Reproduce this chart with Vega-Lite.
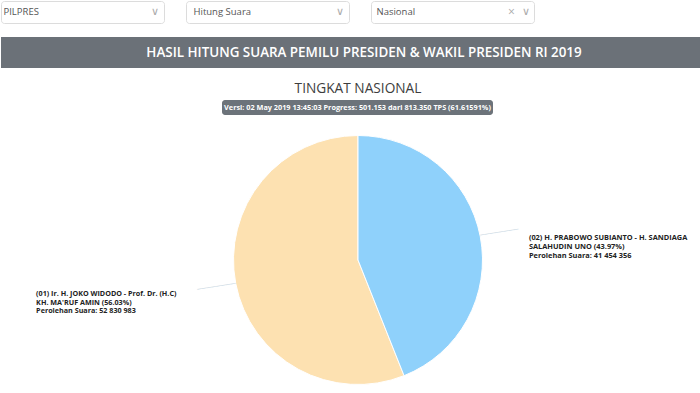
{
  "$schema": "https://vega.github.io/schema/vega-lite/v6.json",
  "padding": 0,
  "background": "white",
  "spacing": 13,
  "config": {"view": {"stroke": null}, "text": {"font": "Open Sans"}},
  "datasets": {
    "kandidat": [
      {"nomor": 1, "kandidat": "Ir. H. JOKO WIDODO - Prof. Dr. (H.C) KH. MA'RUF AMIN", "persen": 56.03, "suara": 52830983, "label": ["(01) Ir. H. JOKO WIDODO - Prof. Dr. (H.C)", "KH. MA'RUF AMIN (56.03%)", "Perolehan Suara: 52 830 983"]},
      {"nomor": 2, "kandidat": "H. PRABOWO SUBIANTO - H. SANDIAGA SALAHUDIN UNO", "persen": 43.97, "suara": 41454356, "label": ["(02) H. PRABOWO SUBIANTO - H. SANDIAGA", "SALAHUDIN UNO (43.97%)", "Perolehan Suara: 41 454 356"]}
    ]
  },
  "vconcat": [
    {
      "spacing": 20,
      "hconcat": [
        {
          "width": 163, "height": 22,
          "view": {"fill": "white", "stroke": "#dcdcdc", "cornerRadius": 3},
          "data": {"values": [{"pilihan": "PILPRES"}]},
          "layer": [
            {"mark": {"type": "text", "align": "left", "dx": -79, "fontSize": 9.5, "color": "#555555"}, "encoding": {"text": {"field": "pilihan"}}},
            {"mark": {"type": "text", "text": "∨", "dx": 72, "fontSize": 11, "color": "#aaaaaa"}, "encoding": {}}
          ]
        },
        {
          "width": 163, "height": 22,
          "view": {"fill": "white", "stroke": "#dcdcdc", "cornerRadius": 3},
          "data": {"values": [{"pilihan": "Hitung Suara"}]},
          "layer": [
            {"mark": {"type": "text", "align": "left", "dx": -74, "fontSize": 9.5, "color": "#555555"}, "encoding": {"text": {"field": "pilihan"}}},
            {"mark": {"type": "text", "text": "∨", "dx": 72, "fontSize": 11, "color": "#aaaaaa"}, "encoding": {}}
          ]
        },
        {
          "width": 163, "height": 22,
          "view": {"fill": "white", "stroke": "#dcdcdc", "cornerRadius": 3},
          "data": {"values": [{"pilihan": "Nasional"}]},
          "layer": [
            {"mark": {"type": "text", "align": "left", "dx": -76, "fontSize": 9.5, "color": "#555555"}, "encoding": {"text": {"field": "pilihan"}}},
            {"mark": {"type": "text", "text": "×", "dx": 59, "fontSize": 12, "color": "#aaaaaa"}, "encoding": {}},
            {"mark": {"type": "text", "text": "∨", "dx": 73, "fontSize": 11, "color": "#aaaaaa"}, "encoding": {}}
          ]
        }
      ]
    },
    {
      "spacing": 0,
      "vconcat": [
        {
          "width": 700, "height": 31,
          "view": {"fill": "#6b7178"},
          "data": {"values": [{"judul": "HASIL HITUNG SUARA PEMILU PRESIDEN & WAKIL PRESIDEN RI 2019"}]},
          "mark": {"type": "text", "color": "white", "fontSize": 13.4, "fontWeight": 600, "dx": 13},
          "encoding": {"text": {"field": "judul"}}
        },
        {
          "width": 700, "height": 32,
          "data": {"values": [{"judul": "TINGKAT NASIONAL"}]},
          "mark": {"type": "text", "color": "#3d3d3d", "fontSize": 13.7, "dx": 7, "dy": 5},
          "encoding": {"text": {"field": "judul"}}
        },
        {
          "spacing": 10,
          "vconcat": [
            {
              "spacing": 0,
              "hconcat": [
                {"width": 221, "height": 15, "data": {"values": [{}]}, "mark": {"type": "text", "text": ""}, "encoding": {}},
                {
                  "width": 271, "height": 15,
                  "view": {"fill": "#6c737a", "cornerRadius": 3},
                  "data": {"values": [{"versi": "Versi: 02 May 2019 13:45:03 Progress: 501.153 dari 813.350 TPS (61.61591%)"}]},
                  "mark": {"type": "text", "color": "white", "fontSize": 7.3, "fontWeight": "bold"},
                  "encoding": {"text": {"field": "versi"}}
                }
              ]
            },
            {
              "spacing": 0,
              "hconcat": [
                {"width": 14, "height": 270, "data": {"values": [{}]}, "mark": {"type": "text", "text": ""}, "encoding": {}},
                {
                  "width": 686, "height": 270,
                  "data": {"name": "kandidat"},
                  "encoding": {
                    "theta": {"field": "suara", "type": "quantitative", "stack": true},
                    "order": {"field": "nomor", "sort": "descending"},
                    "detail": {"field": "nomor", "type": "nominal"}
                  },
                  "layer": [
                    {
                      "mark": {"type": "arc", "outerRadius": 124.5, "stroke": "white", "strokeWidth": 1},
                      "encoding": {
                        "color": {
                          "field": "kandidat", "type": "nominal", "legend": null,
                          "scale": {
                            "domain": ["Ir. H. JOKO WIDODO - Prof. Dr. (H.C) KH. MA'RUF AMIN", "H. PRABOWO SUBIANTO - H. SANDIAGA SALAHUDIN UNO"],
                            "range": ["#fde1b1", "#8fd1fb"]
                          }
                        }
                      }
                    },
                    {
                      "mark": {"type": "text", "text": "────────", "radius": 144, "angle": 351, "fontSize": 8, "font": "DejaVu Sans", "color": "#cfdce6"}
                    },
                    {
                      "mark": {"type": "text", "radius": 174, "align": "left", "baseline": "middle", "dx": 0, "dy": 11, "fontSize": 7.4, "fontWeight": "bold", "lineHeight": 8.8, "color": "#222222"},
                      "encoding": {"text": {"condition": {"test": "datum.nomor === 2", "field": "label"}, "value": ""}}
                    },
                    {
                      "mark": {"type": "text", "radius": 174, "align": "left", "baseline": "middle", "dx": -151, "dy": 1, "fontSize": 7.2, "fontWeight": "bold", "lineHeight": 8.8, "color": "#222222"},
                      "encoding": {"text": {"condition": {"test": "datum.nomor === 1", "field": "label"}, "value": ""}}
                    }
                  ]
                }
              ]
            }
          ]
        }
      ]
    }
  ]
}
